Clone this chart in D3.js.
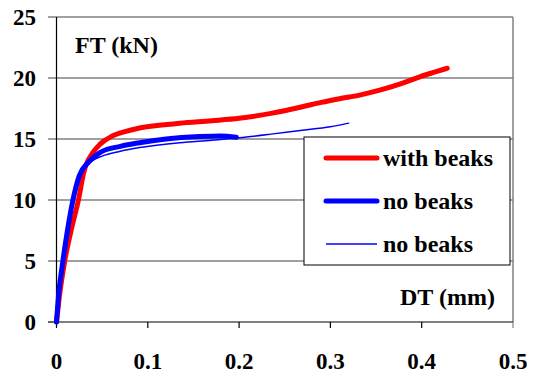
<!DOCTYPE html>
<html>
<head>
  <meta charset="UTF-8">
  <script src="https://d3js.org/d3.v7.min.js"></script>
  <style>
    body { margin: 0; background: white; }
    svg text { font-family: "Liberation Serif", "Times New Roman", serif; font-weight: bold; }
  </style>
</head>
<body>
  <div id="chart"></div>
  <script>
// values (DT in mm, FT in kN)
const withBeaks = [[0,0],[0.003,2],[0.009,5],[0.016,7.5],[0.024,10],[0.03,12.3],[0.04,13.9],[0.048,14.6],[0.06,15.2],[0.075,15.6],[0.091,15.9],[0.11,16.1],[0.135,16.3],[0.17,16.5],[0.2,16.7],[0.235,17.1],[0.267,17.6],[0.29,18.0],[0.31,18.3],[0.332,18.6],[0.354,19.0],[0.38,19.6],[0.398,20.1],[0.415,20.5],[0.428,20.8]];
const noBeaksThick = [[0,0],[0.002,2],[0.007,5],[0.012,7.5],[0.018,10],[0.025,12],[0.035,13.1],[0.048,13.9],[0.07,14.4],[0.091,14.7],[0.12,15.0],[0.157,15.2],[0.18,15.25],[0.197,15.15]];
const noBeaksThin = [[0,0],[0.003,2],[0.008,5],[0.013,7.5],[0.019,10],[0.027,12],[0.036,13],[0.05,13.6],[0.07,14.0],[0.091,14.3],[0.135,14.7],[0.17,14.9],[0.2,15.1],[0.235,15.4],[0.267,15.7],[0.3,16.0],[0.32,16.3]];
const xTicks = [0, 0.1, 0.2, 0.3, 0.4, 0.5];
const yTicks = [0, 5, 10, 15, 20, 25];
const legendNames = ["with beaks", "no beaks", "no beaks"];

const W = 533, H = 383;
const svg = d3.select("#chart").append("svg").attr("width", W).attr("height", H);

const x = d3.scaleLinear().domain([0, 0.5]).range([56.5, 513]);
const y = d3.scaleLinear().domain([0, 25]).range([322, 17]);

// grid lines (extend left of axis as ticks)
svg.append("g").selectAll("line").data(yTicks.filter(d => d > 0)).join("line")
  .attr("x1", 48).attr("x2", x(0.5))
  .attr("y1", d => y(d)).attr("y2", d => y(d))
  .attr("stroke", "#808080").attr("stroke-width", 1.5);

// right border
svg.append("line").attr("x1", x(0.5)).attr("x2", x(0.5)).attr("y1", y(25)).attr("y2", y(0))
  .attr("stroke", "#808080").attr("stroke-width", 1.5);

// y axis
svg.append("line").attr("x1", x(0)).attr("x2", x(0)).attr("y1", y(25)).attr("y2", y(0))
  .attr("stroke", "#000").attr("stroke-width", 1.2);
svg.append("line").attr("x1", 48).attr("x2", x(0)).attr("y1", y(0)).attr("y2", y(0))
  .attr("stroke", "#000").attr("stroke-width", 1.2);

// x axis
svg.append("line").attr("x1", x(0)).attr("x2", x(0.5)).attr("y1", y(0)).attr("y2", y(0))
  .attr("stroke", "#000").attr("stroke-width", 1.2);
svg.append("g").selectAll("line").data(xTicks).join("line")
  .attr("x1", d => x(d)).attr("x2", d => x(d))
  .attr("y1", y(0)).attr("y2", y(0) + 6)
  .attr("stroke", d => d === 0.5 ? "#808080" : "#000").attr("stroke-width", 1.2);

// tick labels
svg.append("g").selectAll("text").data(yTicks).join("text")
  .attr("x", 36).attr("y", d => y(d) + 8)
  .attr("text-anchor", "end")
  .attr("font-size", 23)
  .text(d => d);
svg.append("g").selectAll("text").data(xTicks).join("text")
  .attr("x", d => x(d)).attr("y", 369)
  .attr("text-anchor", "middle")
  .attr("font-size", 23)
  .text(d => d);

// axis titles inside plot
svg.append("text").attr("x", 75).attr("y", 53)
  .attr("font-size", 24)
  .text("FT (kN)");
svg.append("text").attr("x", 400).attr("y", 305)
  .attr("font-size", 24)
  .text("DT (mm)");

// curves
const line = d3.line().x(d => x(d[0])).y(d => y(d[1])).curve(d3.curveMonotoneX);
const series = [
  { data: withBeaks, color: "#ff0000", width: 5 },
  { data: noBeaksThick, color: "#0000ff", width: 5 },
  { data: noBeaksThin, color: "#0000ff", width: 1.5 }
];
svg.append("g").selectAll("path").data(series).join("path")
  .attr("d", d => line(d.data))
  .attr("fill", "none")
  .attr("stroke", d => d.color)
  .attr("stroke-width", d => d.width)
  .attr("stroke-linejoin", "round")
  .attr("stroke-linecap", "round");

// legend
const lg = svg.append("g").attr("transform", "translate(304,137)");
lg.append("rect").attr("width", 206).attr("height", 128)
  .attr("fill", "white").attr("stroke", "#000").attr("stroke-width", 1);
const items = lg.selectAll("g.item").data(series).join("g")
  .attr("class", "item")
  .attr("transform", (d, i) => `translate(0,${21 + i * 43})`);
items.append("line").attr("x1", 22).attr("x2", 73).attr("y1", 0).attr("y2", 0)
  .attr("stroke", d => d.color).attr("stroke-width", d => d.width)
  .attr("stroke-linecap", d => d.width > 2 ? "round" : "butt");
items.append("text").attr("x", 79).attr("y", 8)
  .attr("font-size", 24)
  .text((d, i) => legendNames[i]);
  </script>
</body>
</html>
